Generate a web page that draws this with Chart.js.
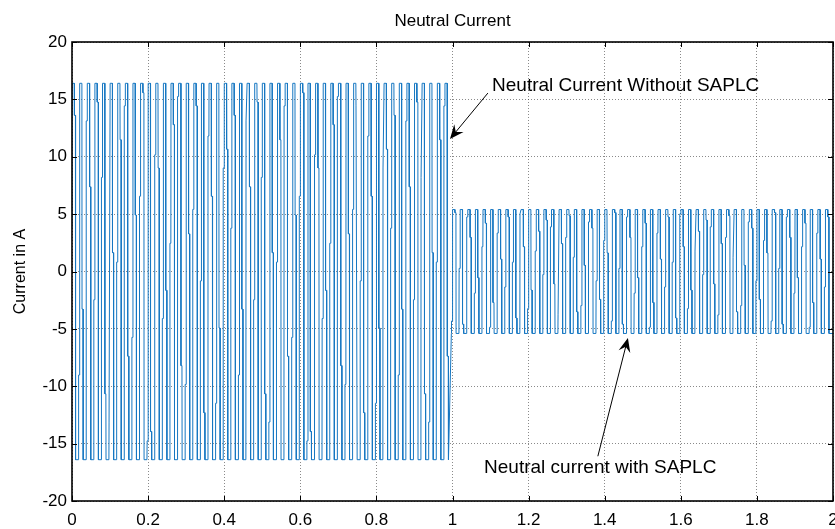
<!DOCTYPE html>
<html>
<head>
<meta charset="utf-8">
<script src="https://cdn.jsdelivr.net/npm/chart.js@4.4.1/dist/chart.umd.min.js"></script>
<style>
  html, body { margin: 0; padding: 0; background: #fff; }
  #wrap { width: 835px; height: 529px; }
</style>
</head>
<body>
<div id="wrap"><canvas id="chart" width="835" height="529"></canvas></div>
<script>
// axis ranges and ticks (seconds / amperes)
const timeRange = [0, 2];
const currentRange = [-20, 20];
const timeStep = 0.2;
const currentStep = 5;

// two parts of the trace: without SAPLC, then with SAPLC
const segmentStarts = [-0.003, 0.997];
const segmentCycles = [50, 50];
const segmentPeaks = [16.4, 5.4];
const cyclePeriod = 0.02;

// one cycle: phase (fraction of period) and level (fraction of peak)
// 'r' and 'f' are the intermediate steps on the rising and falling edges
const cyclePhase = [0, 0.02, 0.14, 0.16, 0.45, 0.47, 0.6, 0.62];
const cycleLevel = [-1, 'r', 'r', 1, 1, 'f', 'f', -1];

// step levels seen on successive edges (fraction of peak)
const riseSteps = [0.23, -0.55, 0.8, -0.15, 0.5, -0.8, 0.05, 0.88, -0.35, 0.4, -0.9, 0.62, -0.25, 0.15, 0.93, -0.6, 0.33, -0.05, 0.72, -0.7, 0.55];
const fallSteps = [0.83, -0.2, 0.45, 0.9, -0.65, 0.1, 0.7, -0.45, 0.3, 0.95, -0.85, 0.55, -0.1, 0.78, -0.5, 0.2, 0.88, -0.75, 0.4, -0.3, 0.65];

const notes = [
  { text: 'Neutral Current Without SAPLC', x: 1.104, y: 16.2 },
  { text: 'Neutral current with SAPLC', x: 1.083, y: -17.1 },
];
const arrows = [
  { from: [1.093, 15.55], to: [0.9934, 11.55] },
  { from: [1.382, -16.1], to: [1.461, -5.8] },
];

const buildTrace = () => {
  const pts = [];
  segmentStarts.forEach((start, s) => {
    const peak = segmentPeaks[s];
    for (let c = 0; c < segmentCycles[s]; c++) {
      const t0 = start + c * cyclePeriod;
      const r = riseSteps[(c + s * 5) % riseSteps.length];
      const f = fallSteps[(c + s * 9) % fallSteps.length];
      cyclePhase.forEach((p, i) => {
        const lv = cycleLevel[i] === 'r' ? r : cycleLevel[i] === 'f' ? f : cycleLevel[i];
        pts.push({ x: t0 + p * cyclePeriod, y: lv * peak });
      });
    }
  });
  pts.push({ x: timeRange[1], y: -segmentPeaks[1] });
  return pts;
};

const fmt = (v) => String(Math.round(v * 10) / 10);

const framePlugin = {
  id: 'frame',
  afterDraw(chart) {
    const { ctx, chartArea: a, scales: { x, y } } = chart;
    ctx.save();
    ctx.strokeStyle = '#000';
    ctx.lineWidth = 1;
    // inward ticks
    ctx.beginPath();
    x.ticks.forEach(t => {
      const px = Math.round(x.getPixelForValue(t.value)) + 0.5;
      ctx.moveTo(px, a.bottom); ctx.lineTo(px, a.bottom - 5);
      ctx.moveTo(px, a.top); ctx.lineTo(px, a.top + 5);
    });
    y.ticks.forEach(t => {
      const py = Math.round(y.getPixelForValue(t.value)) + 0.5;
      ctx.moveTo(a.left, py); ctx.lineTo(a.left + 5, py);
      ctx.moveTo(a.right, py); ctx.lineTo(a.right - 5, py);
    });
    ctx.stroke();
    ctx.lineWidth = 1.6;
    ctx.strokeRect(a.left, a.top, a.right - a.left, a.bottom - a.top);

    // annotations
    ctx.fillStyle = '#000';
    ctx.font = '19px Arial, "Liberation Sans", sans-serif';
    ctx.textBaseline = 'middle';
    notes.forEach(n => ctx.fillText(n.text, x.getPixelForValue(n.x), y.getPixelForValue(n.y)));

    arrows.forEach(ar => {
      const x1 = x.getPixelForValue(ar.from[0]), y1 = y.getPixelForValue(ar.from[1]);
      const x2 = x.getPixelForValue(ar.to[0]), y2 = y.getPixelForValue(ar.to[1]);
      const ang = Math.atan2(y2 - y1, x2 - x1);
      const len = 14, half = 6;
      ctx.lineWidth = 1;
      ctx.beginPath();
      ctx.moveTo(x1, y1);
      ctx.lineTo(x2 - Math.cos(ang) * 8, y2 - Math.sin(ang) * 8);
      ctx.stroke();
      ctx.save();
      ctx.translate(x2, y2);
      ctx.rotate(ang);
      ctx.beginPath();
      ctx.moveTo(0, 0);
      ctx.lineTo(-len, -half);
      ctx.lineTo(-len * 0.65, 0);
      ctx.lineTo(-len, half);
      ctx.closePath();
      ctx.fill();
      ctx.restore();
    });
    ctx.restore();
  },
};

const gridStyle = { color: 'rgba(60,60,60,0.6)', lineWidth: 1, drawTicks: false };

new Chart(document.getElementById('chart').getContext('2d'), {
  type: 'scatter',
  data: {
    datasets: [{
      data: buildTrace(),
      showLine: true,
      borderColor: '#1677c2',
      borderWidth: 1,
      pointRadius: 0,
      tension: 0,
    }],
  },
  options: {
    responsive: false,
    animation: false,
    events: [],
    layout: { padding: { left: 0, right: 2, top: 0, bottom: 0 } },
    plugins: {
      legend: { display: false },
      tooltip: { enabled: false },
      title: {
        display: true,
        fullSize: false,
        text: 'Neutral Current',
        color: '#000',
        font: { family: 'Arial, "Liberation Sans", sans-serif', size: 17, weight: 'normal' },
        padding: { top: 11, bottom: 10.6 },
      },
    },
    scales: {
      x: {
        type: 'linear',
        min: timeRange[0],
        max: timeRange[1],
        grid: gridStyle,
        border: { display: false, dash: [1, 2] },
        ticks: {
          stepSize: timeStep,
          padding: 9,
          color: '#000',
          maxRotation: 0,
          autoSkip: false,
          font: { family: 'Arial, "Liberation Sans", sans-serif', size: 17 },
          callback: fmt,
        },
        afterFit: (s) => { s.height = 28; s.paddingLeft = 0; s.paddingRight = 0; },
      },
      y: {
        type: 'linear',
        min: currentRange[0],
        max: currentRange[1],
        grid: gridStyle,
        border: { display: false, dash: [1, 2] },
        ticks: {
          stepSize: currentStep,
          padding: 5,
          color: '#000',
          font: { family: 'Arial, "Liberation Sans", sans-serif', size: 17 },
          callback: fmt,
        },
        title: {
          display: true,
          text: 'Current in A',
          color: '#000',
          font: { family: 'Arial, "Liberation Sans", sans-serif', size: 16 },
          padding: { top: 11, bottom: 0 },
        },
        afterFit: (s) => { s.width = 72; s.paddingTop = 0; s.paddingBottom = 0; },
      },
    },
  },
  plugins: [framePlugin],
});
</script>
</body>
</html>
